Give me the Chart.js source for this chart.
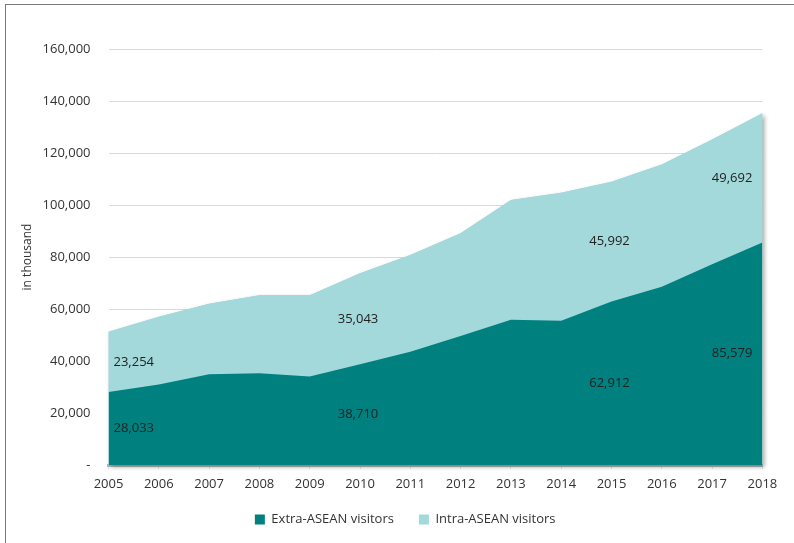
<!DOCTYPE html>
<html>
<head>
<meta charset="utf-8">
<script src="https://cdn.jsdelivr.net/npm/chart.js@4"></script>
<style>
  html, body { margin: 0; padding: 0; background: #fff; overflow: hidden; }
  #frame { position: absolute; left: 5px; top: 4px; width: 900px; height: 700px; border: 1.5px solid #7a7a7a; }
  #wrap { position: absolute; left: 0; top: 0; width: 794px; height: 543px; }
</style>
</head>
<body>
<div id="frame"></div>
<div id="wrap"><canvas id="chart"></canvas></div>
<script>
// Visitor arrivals (in thousand)
const years = ['2005', '2006', '2007', '2008', '2009', '2010', '2011', '2012', '2013', '2014', '2015', '2016', '2017', '2018'];
const extraAsean = [28033, 31000, 34900, 35300, 34000, 38710, 43600, 49600, 55900, 55500, 62912, 68600, 77200, 85579];
const intraAsean = [23254, 26000, 27100, 30000, 31300, 35043, 37200, 39500, 46000, 49200, 45992, 47000, 48000, 49692];
const labelledYears = ['2005', '2010', '2015', '2018'];

const darkTeal = '#00807f';
const lightTeal = '#a3d9db';
const textColor = '#333333';
const fontFamily = "'Open Sans', sans-serif";

// soft shadow under the stacked area
const areaShadow = {
    id: 'areaShadow',
    beforeDatasetsDraw(chart) {
        const pts = chart.getDatasetMeta(1).data;
        const bottom = chart.scales.y.getPixelForValue(0);
        const ctx = chart.ctx;
        ctx.save();
        ctx.beginPath();
        ctx.moveTo(pts[0].x, pts[0].y);
        pts.forEach(p => ctx.lineTo(p.x, p.y));
        ctx.lineTo(pts[pts.length - 1].x, bottom);
        ctx.lineTo(pts[0].x, bottom);
        ctx.closePath();
        ctx.shadowColor = 'rgba(0,0,0,0.35)';
        ctx.shadowBlur = 4;
        ctx.shadowOffsetX = 2;
        ctx.shadowOffsetY = 2;
        ctx.fillStyle = lightTeal;
        ctx.fill();
        ctx.restore();
    }
};

// value labels in the middle of each band
const bandLabels = {
    id: 'bandLabels',
    afterDatasetsDraw(chart) {
        const ctx = chart.ctx;
        const x = chart.scales.x, y = chart.scales.y;
        const series = [extraAsean, intraAsean];
        ctx.save();
        ctx.font = "13px " + fontFamily;
        ctx.fillStyle = '#222';
        ctx.textBaseline = 'middle';
        labelledYears.forEach(yr => {
            const i = years.indexOf(yr);
            let base = 0;
            series.forEach(s => {
                const v = s[i];
                const yMid = (y.getPixelForValue(base) + y.getPixelForValue(base + v)) / 2;
                let px = x.getPixelForValue(i);
                if (i === 0) { ctx.textAlign = 'left'; px += 5; }
                else if (i === years.length - 1) { ctx.textAlign = 'right'; px -= 10; }
                else { ctx.textAlign = 'center'; px -= 2; }
                ctx.fillText(v.toLocaleString('en-US'), px, yMid);
                base += v;
            });
        });
        ctx.restore();
    }
};

// legend sits a bit right of the canvas centre in the original
const legendShift = {
    id: 'legendShift',
    afterLayout(chart) {
        chart.legend.left += 24;
        chart.legend.right += 24;
    }
};

new Chart(document.getElementById('chart'), {
    type: 'line',
    data: {
        labels: years,
        datasets: [{
            label: 'Extra-ASEAN visitors',
            data: extraAsean,
            backgroundColor: darkTeal,
            borderColor: darkTeal,
            borderWidth: 0,
            pointRadius: 0,
            fill: 'origin',
            tension: 0
        }, {
            label: 'Intra-ASEAN visitors',
            data: intraAsean,
            backgroundColor: lightTeal,
            borderColor: lightTeal,
            borderWidth: 0,
            pointRadius: 0,
            fill: '-1',
            tension: 0
        }]
    },
    options: {
        responsive: true,
        maintainAspectRatio: false,
        animation: false,
        layout: { padding: { left: 0, right: 31.6, top: 49, bottom: 15 } },
        plugins: {
            tooltip: { enabled: false },
            legend: {
                position: 'bottom',
                maxHeight: 40,
                labels: {
                    boxWidth: 10,
                    boxHeight: 10,
                    padding: 25,
                    color: textColor,
                    font: { family: fontFamily, size: 13 }
                }
            }
        },
        scales: {
            x: {
                offset: false,
                afterFit(scale) { scale.height = 23; },
                grid: { drawOnChartArea: false, drawTicks: true, tickLength: 4, color: '#e4e4e4', lineWidth: 1 },
                border: { display: true, color: '#b8b8b8', width: 3 },
                ticks: { color: textColor, padding: 7, maxRotation: 0, autoSkip: false, font: { family: fontFamily, size: 13 } }
            },
            y: {
                stacked: true,
                min: 0,
                max: 160000,
                afterFit(scale) { scale.width = 108.5; },
                grid: { color: '#d9d9d9', drawTicks: false, lineWidth: 1 },
                border: { display: false },
                title: {
                    display: true,
                    text: 'in thousand',
                    color: textColor,
                    padding: { top: 20, bottom: 0 },
                    font: { family: fontFamily, size: 12 }
                },
                ticks: {
                    stepSize: 20000,
                    padding: 18,
                    color: textColor,
                    font: { family: fontFamily, size: 13 },
                    callback: v => v === 0 ? '-' : v.toLocaleString('en-US')
                }
            }
        }
    },
    plugins: [areaShadow, bandLabels, legendShift]
});
</script>
</body>
</html>
